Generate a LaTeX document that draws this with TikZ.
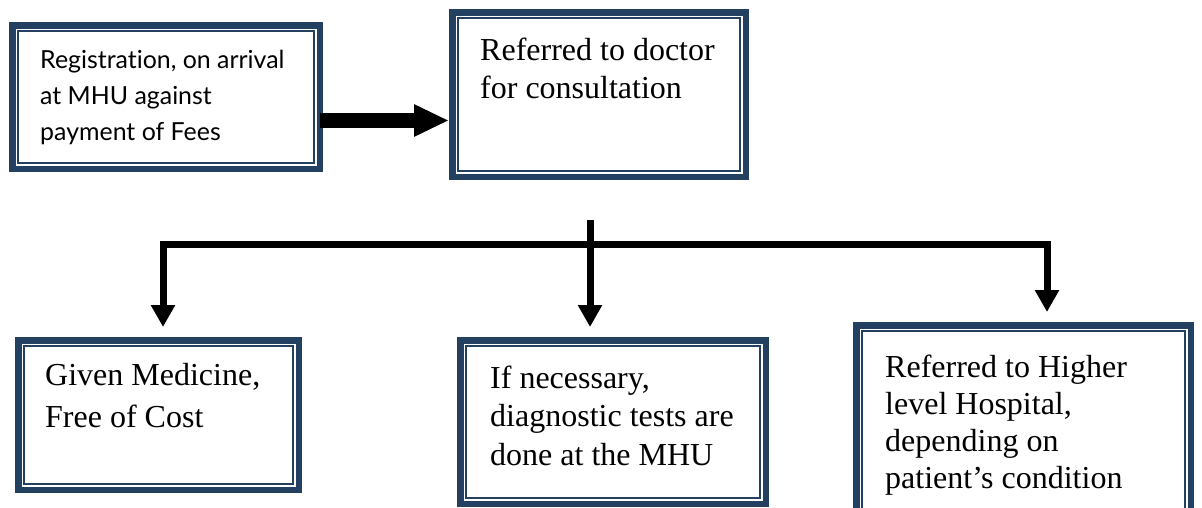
\documentclass[tikz,border=0pt]{standalone}
\usepackage{fontspec}
\setmainfont{Liberation Serif}
\newfontfamily\gillish[Ligatures=NoCommon]{Lato}
\usetikzlibrary{arrows.meta,positioning}
\definecolor{mhuNavy}{RGB}{36,64,97}

\begin{document}
\begin{tikzpicture}[x=1pt,y=-1pt]
  \tikzset{panel/.style 2 args={draw=mhuNavy,line width=6.5pt,fill=white,minimum width=#1,minimum height=#2,inner sep=0pt},
    txt/.style={anchor=base west,inner sep=0pt,align=left,font=\fontsize{32}{38}\selectfont},
    fat/.style={-{Triangle[length=35pt,width=30pt]},line width=15pt},
    stem/.style={-{Triangle[length=22pt,width=23pt]},line width=7pt}}
  \clip (0,0) rectangle (1202,507);
  \node[panel={307.5pt}{143.5pt}] (reg) at (166,97) {};
  \node[panel={293.5pt}{164.5pt}] (doc) at (599,94.5) {};
  \node[panel={280.5pt}{149.5pt}] (med) at (158.5,415) {};
  \node[panel={305.5pt}{163.5pt}] (diag) at (613,422) {};
  \node[panel={334.5pt}{206.5pt}] (hosp) at (1023.5,428.5) {};
  \foreach \b in {reg,doc,med,diag,hosp} {
    \draw[mhuNavy,line width=1.6pt] ([shift={(8.8pt,-8.8pt)}]\b.north west) rectangle ([shift={(-8.8pt,8.8pt)}]\b.south east);
  }
  % texts sit on the baseline of their last line
  \node[txt,font=\gillish\fontsize{24.9}{36}\selectfont] (regtext) at (40,140) {Registration, on arrival\\at MHU against\\payment of Fees};
  \node[txt] (doctext) at (480,98) {Referred to doctor\\for consultation};
  \node[txt,font=\fontsize{32}{42}\selectfont] (medtext) at (45,427) {Given Medicine,\\Free of Cost};
  \node[txt,font=\fontsize{32}{38.5}\selectfont] (diagtext) at (490,465) {If necessary,\\diagnostic tests are\\done at the MHU};
  \node[txt,font=\fontsize{32}{36.7}\selectfont] (hosptext) at (885,488) {Referred to Higher\\level Hospital,\\depending on\\patient's condition};
  % main flow
  \draw[fat] ([shift={(-3pt,-23.5pt)}]reg.east) -- ([yshift=-23.5pt]reg.east -| doc.west);
  % branches
  \coordinate (split) at (590,220);
  \coordinate (bus) at (590,244.5);
  \coordinate (lb) at (163,244.5);
  \coordinate (rb) at (1047,244.5);
  \draw[stem] (split) -- ([yshift=10pt]diag.north -| split);
  \draw[stem] (bus) -| ([yshift=10pt]med.north -| lb);
  \draw[stem] (bus) -| ([yshift=10pt]hosp.north -| rb);
\end{tikzpicture}
\end{document}
